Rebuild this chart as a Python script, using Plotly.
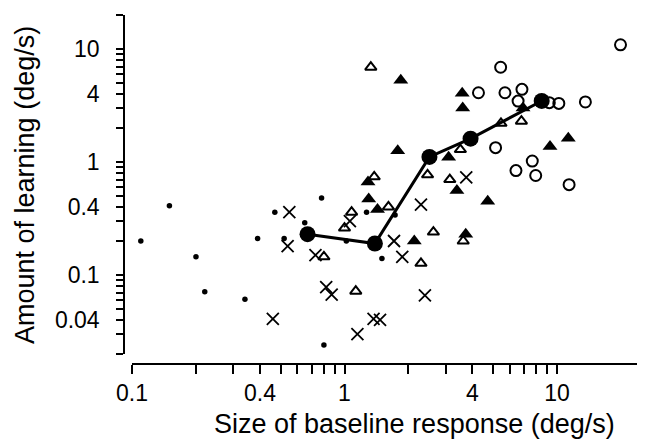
import plotly.graph_objects as go

# ---- data (deg/s) ----
dots_x = [0.11, 0.15, 0.20, 0.22, 0.34, 0.39, 0.47, 0.52, 0.65, 0.78, 1.27, 1.02, 1.73, 1.50, 0.80]
dots_y = [0.20, 0.41, 0.145, 0.071, 0.061, 0.21, 0.36, 0.21, 0.29, 0.48, 0.36, 0.20, 0.34, 0.14, 0.024]

cross_x = [0.55, 0.54, 0.46, 0.73, 1.06, 1.71, 1.87, 2.29, 3.74, 0.82, 0.87, 2.39, 1.37, 1.47, 1.15]
cross_y = [0.36, 0.18, 0.041, 0.15, 0.30, 0.20, 0.145, 0.42, 0.73, 0.078, 0.067, 0.066, 0.041, 0.040, 0.030]

otri_x = [1.33, 1.38, 1.61, 1.08, 1.00, 0.80, 1.13, 2.29, 2.62, 3.62, 2.46, 3.13, 3.51, 5.45, 6.8]
otri_y = [6.9, 0.74, 0.40, 0.36, 0.26, 0.145, 0.072, 0.127, 0.24, 0.20, 0.77, 0.70, 1.29, 2.2, 2.3]

ftri_x = [1.84, 3.58, 3.60, 1.78, 3.09, 1.29, 1.30, 1.43, 2.13, 3.72, 3.38, 4.72, 6.92, 9.27, 11.3]
ftri_y = [5.3, 4.05, 3.0, 1.26, 1.10, 0.665, 0.47, 0.38, 0.20, 0.23, 0.56, 0.45, 3.0, 1.37, 1.62]

ocirc_x = [19.9, 5.43, 4.27, 5.69, 6.84, 6.56, 9.2, 10.2, 13.6, 5.14, 7.65, 6.41, 7.94, 11.4]
ocirc_y = [10.9, 6.9, 4.1, 4.1, 4.4, 3.46, 3.35, 3.3, 3.4, 1.34, 1.02, 0.84, 0.76, 0.63]

mean_x = [0.67, 1.39, 2.51, 3.92, 8.47]
mean_y = [0.23, 0.19, 1.11, 1.61, 3.47]

x_tickvals = [0.1, 0.2, 0.3, 0.4, 0.5, 0.6, 0.7, 0.8, 0.9, 1, 2, 3, 4, 5, 6, 7, 8, 9, 10]
x_ticktext = ["0.1", "", "", "0.4", "", "", "", "", "", "1", "", "", "4", "", "", "", "", "", "10"]
y_tickvals = [0.02, 0.03, 0.04, 0.05, 0.06, 0.07, 0.08, 0.09, 0.1, 0.2, 0.3, 0.4, 0.5, 0.6, 0.7, 0.8, 0.9,
              1, 2, 3, 4, 5, 6, 7, 8, 9, 10, 20]
y_ticktext = ["", "", "0.04", "", "", "", "", "", "0.1", "", "", "0.4", "", "", "", "", "",
              "1", "", "", "4", "", "", "", "", "", "10", ""]

# page body has an 8px margin: the figure sits at (8, 8) in the window
OFF = 8
W, H = 645 - OFF, 439 - OFF
FONT = "Liberation Sans, Arial, Helvetica, sans-serif"


def px_x(p):
    return (p - OFF) / W


def px_y(p):
    return (H - (p - OFF)) / H


fig = go.Figure()
fig.add_trace(go.Scatter(x=dots_x, y=dots_y, mode="markers", cliponaxis=False,
                         marker=dict(symbol="circle", size=5.5, color="black")))
fig.add_trace(go.Scatter(x=cross_x, y=cross_y, mode="markers", cliponaxis=False,
                         marker=dict(symbol="x-thin-open", size=12, color="black",
                                     line=dict(width=1.8, color="black"))))
fig.add_trace(go.Scatter(x=otri_x, y=otri_y, mode="markers", cliponaxis=False,
                         marker=dict(symbol="triangle-up-open", size=10, color="black",
                                     line=dict(width=2, color="black"))))
fig.add_trace(go.Scatter(x=ftri_x, y=ftri_y, mode="markers", cliponaxis=False,
                         marker=dict(symbol="triangle-up", size=13, color="black",
                                     line=dict(width=0))))
fig.add_trace(go.Scatter(x=ocirc_x, y=ocirc_y, mode="markers", cliponaxis=False,
                         marker=dict(symbol="circle-open", size=11, color="black",
                                     line=dict(width=2, color="black"))))
fig.add_trace(go.Scatter(x=mean_x, y=mean_y, mode="lines+markers", cliponaxis=False,
                         line=dict(color="black", width=3),
                         marker=dict(symbol="circle", size=16, color="black")))

x_left_px, x_right_px = 132, 645
x_axis_y_px = 364
y_top_px, y_bot_px = 15, 354
y_axis_x_px = 124

fig.update_layout(
    template="none",
    width=W, height=H,
    margin=dict(l=0, r=0, t=0, b=0, pad=0),
    paper_bgcolor="white", plot_bgcolor="white",
    showlegend=False,
    font=dict(family=FONT, size=23, color="black"),
    xaxis=dict(
        type="log", range=[-1, (x_right_px - x_left_px) / 212.5 - 1],
        domain=[px_x(x_left_px), 1], anchor="free", position=px_y(x_axis_y_px),
        automargin=False,
        showline=True, linecolor="black", linewidth=1.5,
        ticks="outside", ticklen=9, tickwidth=1.5, tickcolor="black",
        tickvals=x_tickvals, ticktext=x_ticktext,
        showgrid=False, zeroline=False, tickfont=dict(size=23),
    ),
    yaxis=dict(
        type="log", range=[-1.69897, 1.30103],
        domain=[px_y(y_bot_px), px_y(y_top_px)], anchor="free",
        position=px_x(y_axis_x_px),
        automargin=False,
        showline=True, linecolor="black", linewidth=1.5,
        ticks="outside", ticklen=7, tickwidth=1.5, tickcolor="black",
        tickvals=y_tickvals, ticktext=y_ticktext,
        showgrid=False, zeroline=False, tickfont=dict(size=23),
        ticklabelstandoff=12,
    ),
    annotations=[
        dict(text="Size of baseline response (deg/s)", xref="paper", yref="paper",
             x=px_x(414), y=px_y(424), xanchor="center", yanchor="middle",
             showarrow=False, font=dict(size=27)),
        dict(text="Amount of learning (deg/s)", xref="paper", yref="paper",
             x=px_x(25), y=px_y(185), xanchor="center", yanchor="middle",
             textangle=-90, showarrow=False, font=dict(size=27)),
    ],
)

fig.write_html("out.html")
